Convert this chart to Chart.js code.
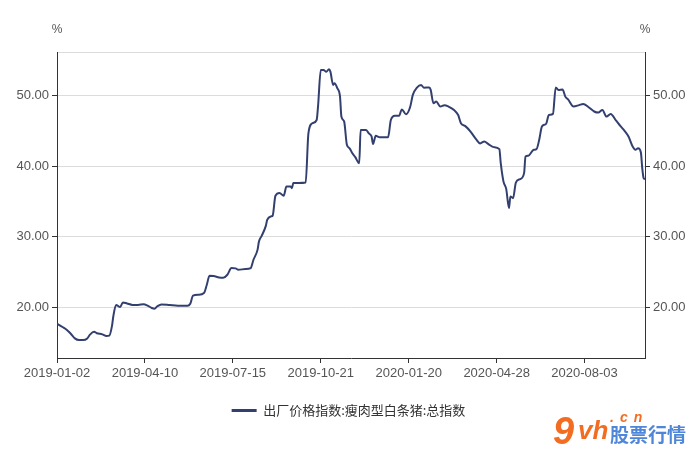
<!DOCTYPE html>
<html>
<head>
<meta charset="utf-8">
<script src="https://cdn.jsdelivr.net/npm/chart.js@4/dist/chart.umd.min.js"></script>
<style>
    html, body { margin: 0; padding: 0; background: #fff; }
    #wrap { position: relative; width: 697px; height: 456px; }
    #logo { position: absolute; left: 550px; top: 400px; width: 147px; height: 56px; font-family: "Liberation Sans", sans-serif; }
    #logo span { position: absolute; white-space: nowrap; }
    #logo .nine { left: 3px; top: 12px; line-height: 38px; color: #f26d21; font-size: 38px; font-weight: bold; font-style: italic; }
    #logo .yh { left: 28px; top: 17px; line-height: 26px; color: #f26d21; font-size: 26px; font-weight: bold; font-style: italic; }
    #logo .cn { left: 60px; top: 10px; line-height: 14px; color: #f26d21; font-size: 14px; font-weight: bold; font-style: italic; letter-spacing: 6px; }
    #logo .cjk { left: 60px; top: 24px; line-height: 19px; color: #4f86d8; font-size: 19px; font-weight: bold; font-family: "Noto Sans CJK SC", sans-serif; }
</style>
</head>
<body>
<div id="wrap">
    <canvas id="pigChart" width="697" height="456"></canvas>
    <div id="logo"><span class="nine">9</span><span class="yh">vh</span><span class="cn">.cn</span><span class="cjk">股票行情</span></div>
</div>
<script>
// Data (x = trading day count from 2019-01-02)
const seriesName = '出厂价格指数:瘦肉型白条猪:总指数';
const xTickLabels = ['2019-01-02', '2019-04-10', '2019-07-15', '2019-10-21', '2020-01-20', '2020-04-28', '2020-08-03'];
const xTickStep = 64;
const xLastDay = 428;
const yTicks = [20, 30, 40, 50];
const yMin = 12.9;
const yMax = 56.1;

const dayIndex = [
    0, 4, 7, 10, 13, 16, 19, 22, 24, 27, 29, 33, 36, 38, 40, 41, 43, 46, 48, 51,
    55, 59, 63, 66, 69, 71, 73, 76, 82, 88, 95, 97, 99, 103, 107, 109, 111, 114, 118, 121,
    124, 127, 130, 132, 137, 141, 143, 146, 147, 149, 152, 153, 156, 157, 159, 162, 165, 167, 170, 171,
    172, 176, 181, 183, 186, 189, 190, 192, 194, 196, 198, 199, 201, 202, 204, 206, 207, 209, 211, 213,
    215, 217, 220, 221, 225, 227, 229, 230, 232, 235, 241, 243, 246, 249, 251, 254, 257, 259, 262, 265,
    267, 271, 272, 274, 276, 279, 282, 285, 289, 292, 294, 297, 301, 305, 308, 311, 314, 318, 322, 323,
    325, 327, 329, 330, 332, 334, 337, 340, 341, 343, 347, 349, 351, 353, 356, 358, 361, 363, 365, 368,
    370, 372, 376, 380, 383, 387, 391, 394, 397, 400, 403, 407, 410, 413, 416, 419, 421, 423, 425, 426,
    427, 428
];
const indexValue = [
    17.74, 17.28, 16.9, 16.33, 15.67, 15.44, 15.44, 15.67, 16.2, 16.6, 16.4, 16.24, 16.0, 16.05, 17.4, 18.8, 20.4, 20.1, 20.75, 20.6,
    20.4, 20.4, 20.5, 20.3, 19.96, 19.86, 20.2, 20.47, 20.38, 20.28, 20.28, 20.56, 21.7, 21.83, 22.07, 23.2, 24.5, 24.47, 24.27, 24.23,
    24.65, 25.6, 25.55, 25.36, 25.46, 25.6, 26.77, 28.2, 29.35, 30.15, 31.55, 32.4, 32.9, 33.0, 35.8, 36.2, 35.8, 37.1, 37.1, 36.88,
    37.6, 37.6, 37.67, 44.6, 46.05, 46.5, 48.4, 53.57, 53.57, 53.3, 53.67, 53.33, 51.45, 51.7, 51.0, 49.8, 47.0, 46.3, 43.0, 42.5,
    41.8, 41.3, 40.4, 45.1, 45.1, 44.6, 44.16, 43.1, 44.26, 44.07, 44.07, 46.5, 47.1, 47.1, 48.0, 47.3, 48.3, 50.04, 51.07, 51.45,
    51.07, 51.1, 50.75, 48.87, 49.1, 48.4, 48.6, 48.4, 47.9, 47.2, 46.05, 45.67, 44.87, 43.8, 43.2, 43.46, 43.1, 42.67, 42.38, 40.4,
    37.8, 36.74, 34.06, 35.7, 35.47, 37.67, 38.15, 39.0, 41.34, 41.44, 42.3, 42.38, 43.7, 45.6, 45.95, 47.2, 47.36, 51.1, 50.75, 50.8,
    49.8, 49.4, 48.4, 48.6, 48.77, 48.3, 47.7, 47.55, 47.9, 46.98, 47.36, 46.4, 45.67, 45.0, 44.16, 42.75, 42.3, 42.5, 41.9, 39.7,
    38.3, 38.15
];

const lineColor = '#33406f';
const tickColor = '#555';
const gridColor = '#dcdcdc';
const axisColor = '#333';
const tickFont = { family: '"Liberation Sans", Arial, sans-serif', size: 13 };

// "%" units above both y axes
const unitLabels = {
    id: 'unitLabels',
    afterDraw(chart) {
        const ctx = chart.ctx;
        const area = chart.chartArea;
        ctx.save();
        ctx.fillStyle = tickColor;
        ctx.font = '12px "Liberation Sans", Arial, sans-serif';
        ctx.textAlign = 'center';
        ctx.textBaseline = 'middle';
        ctx.fillText('%', area.left, 30);
        ctx.fillText('%', area.right, 30);
        ctx.restore();
    }
};

function yAxis(position, width) {
    return {
        type: 'linear',
        position: position,
        min: yMin,
        max: yMax,
        afterBuildTicks: function(scale) {
            scale.ticks = yTicks.concat([yMax]).map(v => ({ value: v }));
        },
        afterFit: function(scale) { scale.width = width; },
        border: { display: true, color: axisColor, width: 1 },
        grid: {
            drawOnChartArea: position === 'left',
            color: gridColor,
            tickLength: 5,
            tickColor: function(c) { return c.tick && c.tick.value === yMax ? 'rgba(0,0,0,0)' : axisColor; }
        },
        ticks: {
            color: tickColor,
            font: tickFont,
            padding: 3,
            callback: function(v) { return v === yMax ? '' : v.toFixed(2); }
        }
    };
}

const ctx = document.getElementById('pigChart').getContext('2d');
new Chart(ctx, {
    type: 'line',
    data: {
        datasets: [{
            label: seriesName,
            data: dayIndex.map((d, i) => ({ x: d, y: indexValue[i] })),
            borderColor: lineColor,
            backgroundColor: lineColor,
            borderWidth: 2,
            pointRadius: 0,
            cubicInterpolationMode: 'monotone',
            yAxisID: 'y'
        }, {
            label: 'right',
            data: [],
            yAxisID: 'y2'
        }]
    },
    options: {
        responsive: false,
        animation: false,
        layout: { padding: { top: 52, left: 0, right: 0, bottom: 29 } },
        scales: {
            x: {
                type: 'linear',
                min: 0,
                max: xLastDay,
                afterBuildTicks: function(scale) {
                    scale.ticks = xTickLabels.map((l, i) => ({ value: i * xTickStep }));
                },
                afterFit: function(scale) { scale.height = 36; },
                border: { display: true, color: axisColor, width: 1 },
                grid: { drawOnChartArea: false, tickLength: 5, tickColor: axisColor },
                ticks: {
                    color: tickColor,
                    font: tickFont,
                    padding: 3,
                    maxRotation: 0,
                    autoSkip: false,
                    callback: function(v) { return xTickLabels[Math.round(v / xTickStep)]; }
                }
            },
            y: yAxis('left', 57),
            y2: yAxis('right', 52)
        },
        plugins: {
            legend: {
                position: 'bottom',
                labels: {
                    color: '#333',
                    font: { family: '"Noto Sans CJK SC", sans-serif', size: 13 },
                    boxWidth: 25,
                    boxHeight: 3,
                    padding: 10,
                    generateLabels: function(chart) {
                        return Chart.defaults.plugins.legend.labels.generateLabels(chart)
                            .filter(item => item.datasetIndex === 0)
                            .map(item => Object.assign(item, { lineWidth: 0 }));
                    }
                }
            },
            tooltip: { enabled: false }
        }
    },
    plugins: [unitLabels]
});
</script>
</body>
</html>
